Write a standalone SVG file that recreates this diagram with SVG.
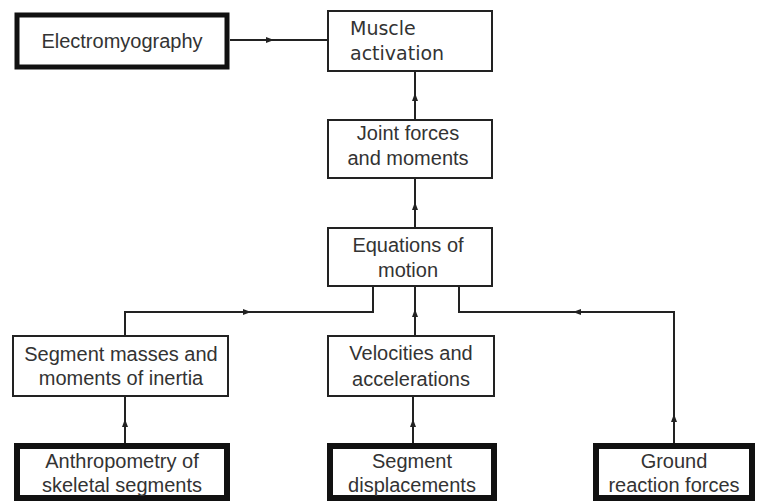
<svg xmlns="http://www.w3.org/2000/svg" width="757" height="502" viewBox="0 0 757 502">
<style>
.box{fill:#fff;stroke:#222;stroke-width:2}
.thick{fill:#fff;stroke:#111;stroke-width:6}
.t{font-family:"Liberation Sans",Arial,sans-serif;font-size:20px;fill:#333;text-anchor:middle}
.m{font-family:"DejaVu Sans",Verdana,sans-serif;font-size:19px;fill:#333}
.c{fill:none;stroke:#222;stroke-width:2}
</style>
<defs>
<path id="ah" d="M-4,-3 L4,0 L-4,3 z" fill="#222"/>
</defs>
<rect width="757" height="502" fill="#fff"/>
<g id="connectors">
<path class="c" d="M230,40 H328"/>
<use href="#ah" transform="translate(270,40)"/>
<path class="c" d="M415,178 V71"/>
<use href="#ah" transform="translate(415,97) rotate(-90)"/>
<path class="c" d="M415,228 V178"/>
<use href="#ah" transform="translate(415,206) rotate(-90)"/>
<path class="c" d="M125,336 V312 H373 V286"/>
<use href="#ah" transform="translate(247,312)"/>
<path class="c" d="M415,336 V286"/>
<use href="#ah" transform="translate(415,313) rotate(-90)"/>
<path class="c" d="M674,443 V312 H459 V286"/>
<use href="#ah" transform="translate(577,312) rotate(180)"/>
<use href="#ah" transform="translate(674,418) rotate(-90)"/>
<path class="c" d="M125,443 V396"/>
<use href="#ah" transform="translate(125,423) rotate(-90)"/>
<path class="c" d="M413,443 V396"/>
<use href="#ah" transform="translate(413,423) rotate(-90)"/>
</g>
<g id="emg">
<rect class="thick" x="17" y="15" width="210" height="52" style="stroke-width:5"/>
<text class="t" x="122" y="48">Electromyography</text>
</g>
<g id="muscle">
<rect class="box" x="328" y="11" width="164" height="60"/>
<text class="m" x="350" y="35">Muscle</text>
<text class="m" x="350" y="60">activation</text>
</g>
<g id="joint">
<rect class="box" x="328" y="120" width="164" height="58"/>
<text class="t" x="408" y="140">Joint forces</text>
<text class="t" x="408" y="165">and moments</text>
</g>
<g id="equations">
<rect class="box" x="328" y="228" width="164" height="58"/>
<text class="t" x="408" y="252">Equations of</text>
<text class="t" x="408" y="277">motion</text>
</g>
<g id="masses">
<rect class="box" x="13" y="336" width="215" height="60"/>
<text class="t" x="121" y="361">Segment masses and</text>
<text class="t" x="121" y="385">moments of inertia</text>
</g>
<g id="velocities">
<rect class="box" x="328" y="336" width="166" height="60"/>
<text class="t" x="411" y="360">Velocities and</text>
<text class="t" x="411" y="386">accelerations</text>
</g>
<g id="anthropometry">
<rect class="thick" x="17" y="446" width="210" height="52"/>
<text class="t" x="122" y="468">Anthropometry of</text>
<text class="t" x="122" y="492">skeletal segments</text>
</g>
<g id="displacements">
<rect class="thick" x="330" y="446" width="164" height="52"/>
<text class="t" x="412" y="468">Segment</text>
<text class="t" x="412" y="492">displacements</text>
</g>
<g id="ground">
<rect class="thick" x="596" y="446" width="156" height="52"/>
<text class="t" x="674" y="468">Ground</text>
<text class="t" x="674" y="492">reaction forces</text>
</g>
</svg>
